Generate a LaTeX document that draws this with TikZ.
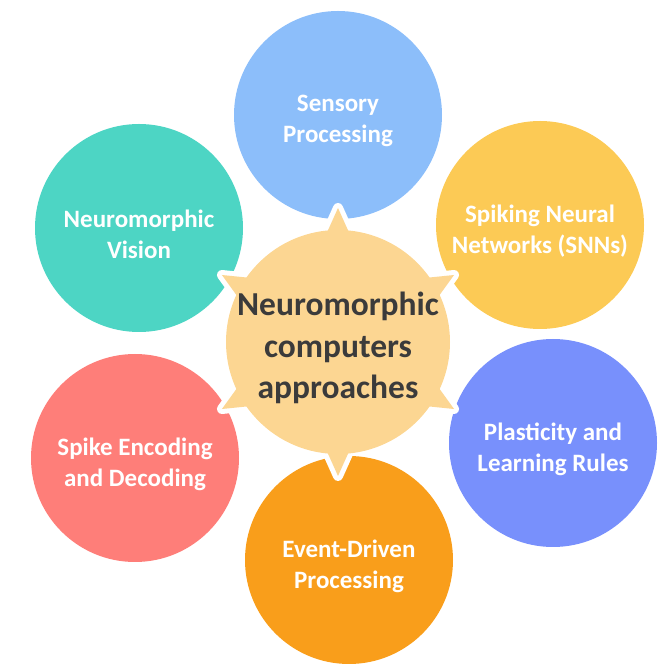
\documentclass[tikz,border=0pt]{standalone}
\usepackage{fontspec}
\setmainfont{Carlito}
\usepackage{tikz}
\usetikzlibrary{positioning,calc}
\definecolor{SensBlue}{HTML}{8CBEFA}
\definecolor{SpikeYellow}{HTML}{FCCA55}
\definecolor{PlastViolet}{HTML}{7890FC}
\definecolor{EventOrange}{HTML}{F99E1B}
\definecolor{CodeSalmon}{HTML}{FE7E79}
\definecolor{VisionTeal}{HTML}{4DD5C4}
\definecolor{HubPeach}{HTML}{FCD692}
\definecolor{HubText}{HTML}{3B3B3B}

\begin{document}
\begin{tikzpicture}[x=1pt, y=1pt,
  bubble/.style={circle, minimum size=208pt, inner sep=0pt, outer sep=0pt},
  bubtext/.style={text=white, align=center, yshift=-6pt,
    font=\fontsize{25}{31}\selectfont\bfseries},
  hub/.style={circle, fill=HubPeach, minimum size=224pt, inner sep=0pt,
    outer sep=0pt},
  hubtext/.style={text=HubText, align=center, yshift=-6pt,
    font=\fontsize{33.5}{41.5}\selectfont\bfseries},
  spike/.style={fill=HubPeach}]
  \useasboundingbox (0,0) rectangle (657,664);
  \coordinate (c) at (338,322);
  \node[bubble, fill=SensBlue, label={[bubtext]center:{Sensory\\Processing}}] (sens) at (338,549) {};
  \node[bubble, fill=SpikeYellow, label={[bubtext]center:{Spiking Neural\\Networks (SNNs)}}] (snn) at (540,439) {};
  \node[bubble, fill=PlastViolet, label={[bubtext]center:{Plasticity and\\Learning Rules}}] (plast) at (553,221) {};
  \node[bubble, fill=EventOrange, label={[bubtext]center:{Event-Driven\\Processing}}] (event) at (349,104) {};
  \node[bubble, fill=CodeSalmon, label={[bubtext]center:{Spike Encoding\\and Decoding}}] (code) at (135,206) {};
  \node[bubble, fill=VisionTeal, label={[bubtext]center:{Neuromorphic\\Vision}}] (vision) at (139,436) {};
  % spikes of the hub, white rim first
  \foreach \a in {30,90,...,330} {
    \draw[white, line width=10pt, line join=round]
      ([shift={(\a-7:106)}]c) -- ([shift={(\a:134)}]c) -- ([shift={(\a+7:106)}]c);
    \fill[spike]
      ([shift={(\a-7:106)}]c) -- ([shift={(\a:134)}]c) -- ([shift={(\a+7:106)}]c) -- cycle;
  }
  \node[hub, label={[hubtext]center:{Neuromorphic\\computers\\approaches}}] (hub) at (c) {};
\end{tikzpicture}
\end{document}
